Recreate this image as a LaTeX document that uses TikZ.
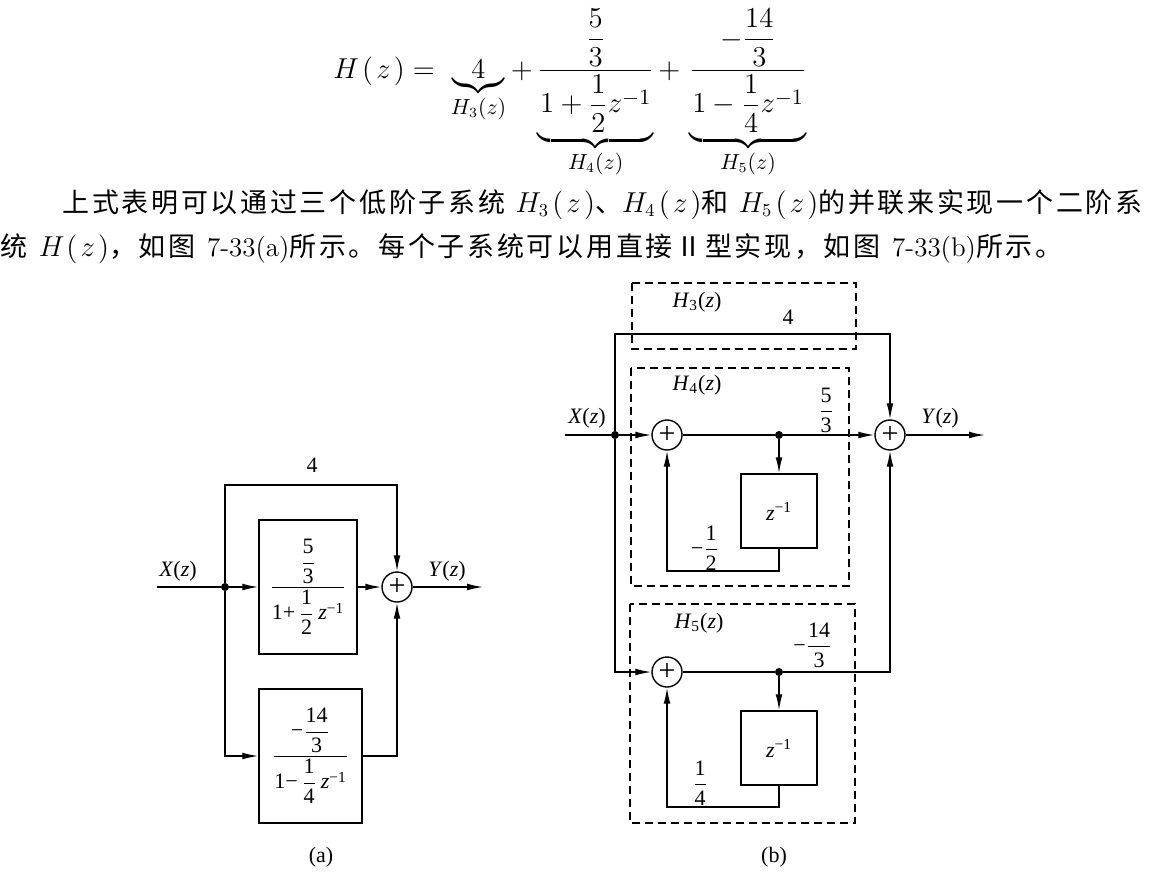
\documentclass[tikz,border=0pt]{standalone}
\usepackage{amsmath}
\usepackage{fontspec}
\newfontfamily\cjk[LetterSpace=10]{Noto Sans CJK SC}
\newfontfamily\tms{Liberation Serif}
\usetikzlibrary{arrows.meta}
\newcommand{\tm}[1]{\text{\tms #1}}
\newcommand{\ti}[1]{\text{\tms\itshape #1}}
\newcommand{\tfr}[2]{\dfrac{\tm{#1}}{\tm{#2}}}
\newcommand{\tz}[1]{\textit{#1}(\textit{z})}
\newcommand{\tHz}[1]{\textit{H}\textsubscript{#1}(\textit{z})}
\newcommand{\hz}[1]{$H_{#1}\mkern2mu(\mkern2mu z\mkern2mu)$}

\begin{document}
\begin{tikzpicture}[x=0.5pt, y=-0.5pt,
  every node/.style={font={\tms\fontsize{11}{13}\selectfont}},
  txtline/.style={anchor=base west, inner sep=0pt, font=\cjk\fontsize{13.5}{16}\selectfont},
  blk/.style={draw, rectangle, line width=0.7pt, inner sep=0pt},
  sumnode/.style={draw, circle, line width=0.7pt, minimum size=15pt, inner sep=0pt, font={\tms\fontsize{15}{15}\selectfont}},
  jdot/.style={circle, fill, inner sep=0pt, minimum size=4pt},
  sig/.style={line width=0.7pt},
  arr/.style={sig, -{Latex[length=8pt,width=3.4pt]}},
  grp/.style={line width=0.7pt, dash pattern=on 4pt off 2.5pt}]
  \useasboundingbox (0,0) rectangle (1172,889);

  \node[anchor=base west, inner sep=0pt, font=\fontsize{15}{18}\selectfont] (eq) at (333,78)
    {$\displaystyle H\mkern2mu(\mkern2mu z\mkern2mu) = \;\underbrace{4}_{H_3(z)} + \underbrace{\dfrac{\dfrac{5}{3}}{1+\dfrac{1}{2}z^{-1}}}_{H_4(z)} +\, \underbrace{\dfrac{-\dfrac{14}{3}}{1-\dfrac{1}{4}z^{-1}}}_{H_5(z)}$};
  \node[txtline] (ln1) at (62,212)
    {\hbox to 540pt{上式表明可以通过三个低阶子系统 \hz{3}、\hz{4}和 \hz{5}的并联来实现一个二阶系}};
  \node[txtline] (ln2) at (0,256)
    {\hbox to 531pt{统 \hz{}，如图 {\rmfamily 7-33(a)}所示。每个子系统可以用直接Ⅱ型实现，如图 {\rmfamily 7-33(b)}所示。}};

  \node[jdot] (xa) at (225,587) {};
  \node[blk, minimum width=49pt, minimum height=67pt] (b1) at (308,587)
    {$\dfrac{\tfr{5}{3}}{\tm{1+}\,\tfr{1}{2}\,\ti{z}^{\tm{−1}}}$};
  \node[blk, minimum width=51.5pt, minimum height=67pt] (b2) at (310.5,756)
    {$\dfrac{\tm{−}\tfr{14}{3}}{\tm{1−}\,\tfr{1}{4}\,\ti{z}^{\tm{−1}}}$};
  \node[sumnode] (sa) at (397,587) {+};
  \coordinate (ina) at (157,587);
  \coordinate (outa) at (483,587);
  \coordinate (ta) at (397,485);
  \draw[sig] (ina) -- (xa);
  \draw[arr] (xa) -- (b1);
  \draw[arr] (b1) -- (sa);
  \draw[arr] (sa) -- (outa);
  \draw[arr] (xa) |- (ta) -- (sa);
  \draw[arr] (xa) |- (b2);
  \draw[arr] (b2) -| (sa);
  \node (la4) at (312,465) {4};
  \node (lxa) at (178,571) {\tz{X}};
  \node (lya) at (447,571) {\tz{Y}};
  \node (capa) at (321,857) {(a)};

  \draw[grp] (632,283) rectangle (856,349);
  \draw[grp] (631,368) rectangle (849,586);
  \draw[grp] (630,604) rectangle (855,823);
  \node[jdot] (xb) at (615,435) {};
  \node[sumnode] (s1) at (667,435) {+};
  \node[jdot] (d2) at (779,435) {};
  \node[sumnode] (s2) at (890,435) {+};
  \node[blk, minimum width=38pt, minimum height=37pt] (z1) at (779,511) {$\ti{z}^{\tm{−1}}$};
  \node[sumnode] (s3) at (667,672) {+};
  \node[jdot] (d3) at (779,672) {};
  \node[blk, minimum width=38pt, minimum height=37pt] (z2) at (779,748) {$\ti{z}^{\tm{−1}}$};
  \coordinate (inb) at (565,435);
  \coordinate (outb) at (985,435);
  \coordinate (tb) at (890,334);
  \coordinate (fb1) at (667,571);
  \coordinate (fb2) at (667,807);
  \draw[sig] (inb) -- (xb);
  \draw[arr] (xb) -- (s1);
  \draw[sig] (s1) -- (d2);
  \draw[arr] (d2) -- (s2);
  \draw[arr] (s2) -- (outb);
  \draw[arr] (d2) -- (z1);
  \draw[arr] (z1) |- (fb1) -- (s1);
  \draw[arr] (xb) |- (tb) -- (s2);
  \draw[arr] (xb) |- (s3);
  \draw[sig] (s3) -- (d3);
  \draw[arr] (d3) -| (s2);
  \draw[arr] (d3) -- (z2);
  \draw[arr] (z2) |- (fb2) -- (s3);
  \node (lh3) at (697,302) {\tHz{3}};
  \node (lb4) at (788,317) {4};
  \node (lh4) at (697,385) {\tHz{4}};
  \node (lg1) at (826,410) {$\tfr{5}{3}$};
  \node (lxb) at (587,418) {\tz{X}};
  \node (lyb) at (940,418) {\tz{Y}};
  \node (lg2) at (705,548) {$\tm{−}\tfr{1}{2}$};
  \node (lh5) at (699,623) {\tHz{5}};
  \node (lg3) at (813,645) {$\tm{−}\tfr{14}{3}$};
  \node (lg4) at (700,783) {$\tfr{1}{4}$};
  \node (capb) at (774,857) {(b)};
\end{tikzpicture}
\end{document}
